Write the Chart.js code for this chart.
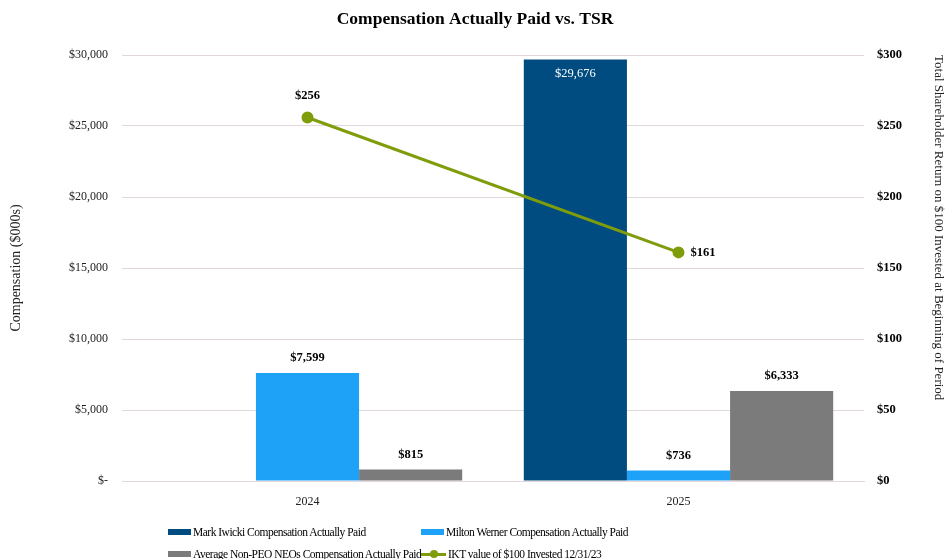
<!DOCTYPE html>
<html>
<head>
<meta charset="utf-8">
<script src="https://cdn.jsdelivr.net/npm/chart.js@4/dist/chart.umd.min.js"></script>
<style>
  body { margin: 0; background: #fff; }
  #wrap { position: relative; width: 950px; height: 559px; }
  #legend { position: absolute; left: 0; top: 520px; width: 950px; height: 39px;
    font-family: "Liberation Serif", serif; font-size: 11.5px; letter-spacing: -0.5px; color: #000; }
  .item { position: absolute; display: flex; align-items: center; white-space: nowrap; height: 14px; }
  .box { width: 23px; height: 6px; margin-right: 2px; }
  .ln { position: relative; width: 25px; height: 3px; margin-right: 2px; }
  .ln i { position: absolute; left: 9px; top: -3px; width: 8px; height: 8px; border-radius: 50%; }
</style>
</head>
<body>
<div id="wrap">
  <canvas id="myChart" width="950" height="559"></canvas>
  <div id="legend"></div>
</div>
<script>
const years = ["2024", "2025"];
const markIwicki = [0, 29676];
const miltonWerner = [7599, 736];
const nonPeoAvg = [815, 6333];
const tsrValue = [256, 161];

const compTicks = [0, 5000, 10000, 15000, 20000, 25000, 30000];
const tsrTicks = [0, 50, 100, 150, 200, 250, 300];

const labels = [
  "Mark Iwicki Compensation Actually Paid",
  "Milton Werner Compensation Actually Paid",
  "Average Non-PEO NEOs Compensation Actually Paid",
  "IKT value of $100 Invested 12/31/23",
];
const colors = ["#004c80", "#1ea2f7", "#7b7b7b", "#7f9c0b"];

const serif = "'Liberation Serif', 'Times New Roman', serif";
const money = (v) => "$" + v.toLocaleString("en-US");

// value labels drawn on top of bars / points
const valueLabels = {
  id: "valueLabels",
  afterDatasetsDraw(chart) {
    const ctx = chart.ctx;
    chart.data.datasets.forEach((ds, i) => {
      const meta = chart.getDatasetMeta(i);
      meta.data.forEach((el, j) => {
        const v = ds.data[j];
        if (!v) return;
        ctx.save();
        ctx.textBaseline = "middle";
        if (ds.type === "line") {
          ctx.font = "bold 12.5px " + serif;
          ctx.fillStyle = "#000";
          if (j === 0) {
            ctx.textAlign = "center";
            ctx.fillText(money(v), el.x, el.y - 22);
          } else {
            ctx.textAlign = "left";
            ctx.fillText(money(v), el.x + 12, el.y);
          }
        } else if (el.y < chart.chartArea.top + 30) {
          ctx.font = "12.5px " + serif;
          ctx.fillStyle = "#fff";
          ctx.textAlign = "center";
          ctx.fillText(money(v), el.x, el.y + 14);
        } else {
          ctx.font = "bold 12.5px " + serif;
          ctx.fillStyle = "#000";
          ctx.textAlign = "center";
          ctx.fillText(money(v), el.x, el.y - 15);
        }
        ctx.restore();
      });
    });
  },
};

const ctx = document.getElementById("myChart").getContext("2d");
const myChart = new Chart(ctx, {
  type: "bar",
  data: {
    labels: years,
    datasets: [
      { label: labels[0], data: markIwicki, backgroundColor: colors[0], yAxisID: "y", order: 1 },
      { label: labels[1], data: miltonWerner, backgroundColor: colors[1], yAxisID: "y", order: 1 },
      { label: labels[2], data: nonPeoAvg, backgroundColor: colors[2], yAxisID: "y", order: 1 },
      {
        type: "line",
        label: labels[3],
        data: tsrValue,
        borderColor: colors[3],
        backgroundColor: colors[3],
        borderWidth: 3,
        pointRadius: 4.5,
        pointHoverRadius: 4.5,
        yAxisID: "y1",
        order: 0,
      },
    ],
  },
  options: {
    responsive: false,
    animation: false,
    layout: { padding: { bottom: 48 } },
    datasets: { bar: { categoryPercentage: 0.834, barPercentage: 1 } },
    plugins: {
      legend: { display: false },
      tooltip: { enabled: false },
      title: {
        display: true,
        text: "Compensation Actually Paid vs. TSR",
        color: "#000",
        font: { family: serif, size: 17.5, weight: "bold" },
        padding: { top: 9, bottom: 25 },
      },
    },
    scales: {
      x: {
        grid: { display: false },
        border: { color: "#e2d8db" },
        ticks: { color: "#222", font: { family: serif, size: 12 }, padding: 6 },
        afterFit: (s) => { s.height = 30; },
      },
      y: {
        position: "left",
        min: 0,
        max: 30000,
        afterBuildTicks: (s) => { s.ticks = compTicks.map((v) => ({ value: v })); },
        grid: { color: "#e2d8db", drawTicks: false },
        border: { display: false },
        ticks: {
          color: "#222",
          padding: 14,
          font: { family: serif, size: 12 },
          callback: (v) => (v === 0 ? "$-" : money(v)),
        },
        title: {
          display: true,
          text: "Compensation ($000s)",
          color: "#222",
          font: { family: serif, size: 14 },
          padding: { top: 8 },
        },
        afterFit: (s) => { s.width = 122; },
      },
      y1: {
        position: "right",
        min: 0,
        max: 300,
        afterBuildTicks: (s) => { s.ticks = tsrTicks.map((v) => ({ value: v })); },
        grid: { display: false, drawTicks: false },
        border: { display: false },
        ticks: {
          color: "#000",
          padding: 13,
          font: { family: serif, size: 12.5, weight: "bold" },
          callback: (v) => "$" + v,
        },
        title: {
          display: true,
          align: "end",
          text: "Total Shareholder Return on $100 Invested at Beginning of Period",
          color: "#222",
          font: { family: serif, size: 13 },
        },
        afterFit: (s) => { s.width = 86; },
      },
    },
  },
  plugins: [valueLabels],
});

// legend laid out in two columns like the original
const legendPos = [[168, 5], [421, 5], [168, 27], [421, 27]];
const legendEl = document.getElementById("legend");
labels.forEach((txt, i) => {
  const item = document.createElement("div");
  item.className = "item";
  item.style.left = legendPos[i][0] + "px";
  item.style.top = legendPos[i][1] + "px";
  if (i === 3) {
    item.innerHTML = '<span class="ln" style="background:' + colors[i] + '"><i style="background:' + colors[i] + '"></i></span>';
  } else {
    item.innerHTML = '<span class="box" style="background:' + colors[i] + '"></span>';
  }
  const t = document.createElement("span");
  t.textContent = txt;
  item.appendChild(t);
  legendEl.appendChild(item);
});
</script>
</body>
</html>
